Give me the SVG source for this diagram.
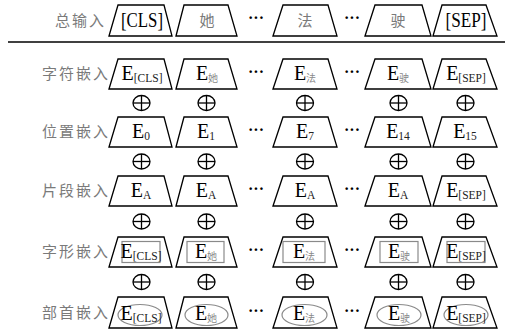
<svg xmlns="http://www.w3.org/2000/svg" width="511" height="330" viewBox="0 0 511 330">
  <style>
    .trap { fill: #ffffff; stroke: #000000; stroke-width: 1.3; stroke-linejoin: miter; }
    .lbl { font-family: "Noto Sans CJK SC", "Noto Sans", sans-serif; font-size: 15px; fill: #7a7a7a; letter-spacing: 2px; }
    .tok { font-family: "Liberation Serif", "Times New Roman", serif; font-size: 20px; fill: #000000; text-anchor: middle; }
    .cjk { font-family: "Noto Sans CJK SC", sans-serif; font-size: 15px; fill: #7a7a7a; text-anchor: middle; }
    .sub { font-size: 11.5px; fill: #222222; }
    .subc { font-family: "Noto Sans CJK SC", sans-serif; font-size: 10px; fill: #8a8a8a; }
    .dots { font-family: "Liberation Serif", serif; font-size: 16px; font-weight: bold; fill: #000000; text-anchor: middle; }
    .plus { fill: none; stroke: #000000; stroke-width: 1.3; }
    .box { fill: none; stroke: #8a8a8a; stroke-width: 1.2; }
    .rule { stroke: #000000; stroke-width: 1.5; }
  </style>

  <!-- row labels -->
  <g id="labels">
    <text class="lbl" x="55" y="26">总输入</text>
    <text class="lbl" x="42" y="79">字符嵌入</text>
    <text class="lbl" x="42" y="137">位置嵌入</text>
    <text class="lbl" x="42" y="196">片段嵌入</text>
    <text class="lbl" x="42" y="257">字形嵌入</text>
    <text class="lbl" x="42" y="318">部首嵌入</text>
  </g>

  <line class="rule" x1="8" y1="42" x2="505" y2="42"/>

  <!-- row 0: input tokens -->
  <g id="input">
    <g id="in-cls"><polygon class="trap" points="109,36 118,5 164,5 172,36"/><text class="tok" x="142" y="27" textLength="42" lengthAdjust="spacingAndGlyphs">[CLS]</text></g>
    <g id="in-ta"><polygon class="trap" points="176,36 184,5 228,5 237,36"/><text class="cjk" x="207" y="26">她</text></g>
    <g id="in-fa"><polygon class="trap" points="273,36 283,5 328,5 337,36"/><text class="cjk" x="305" y="26">法</text></g>
    <g id="in-shi"><polygon class="trap" points="365,36 375,5 422,5 431,36"/><text class="cjk" x="398" y="26">驶</text></g>
    <g id="in-sep"><polygon class="trap" points="433,36 442,5 486,5 497,36"/><text class="tok" x="466" y="27" textLength="41" lengthAdjust="spacingAndGlyphs">[SEP]</text></g>
    <text class="dots" x="256" y="23">···</text>
    <text class="dots" x="352" y="23">···</text>
  </g>

  <!-- row 1: token embeddings -->
  <g id="token-emb">
    <g id="tok-cls"><polygon class="trap" points="109,89 118,59 164,59 172,89"/><text class="tok" x="142" y="80">E<tspan class="sub" dy="2">[CLS]</tspan></text></g>
    <g id="tok-ta"><polygon class="trap" points="176,89 184,59 228,59 237,89"/><text class="tok" x="207" y="80">E<tspan class="subc" dy="2">她</tspan></text></g>
    <g id="tok-fa"><polygon class="trap" points="273,89 283,59 328,59 337,89"/><text class="tok" x="305" y="80">E<tspan class="subc" dy="2">法</tspan></text></g>
    <g id="tok-shi"><polygon class="trap" points="365,89 375,59 422,59 431,89"/><text class="tok" x="398" y="80">E<tspan class="subc" dy="2">驶</tspan></text></g>
    <g id="tok-sep"><polygon class="trap" points="433,89 442,59 486,59 497,89"/><text class="tok" x="466" y="80">E<tspan class="sub" dy="2">[SEP]</tspan></text></g>
    <text class="dots" x="256" y="77">···</text>
    <text class="dots" x="352" y="77">···</text>
  </g>

  <!-- row 2: position embeddings -->
  <g id="pos-emb">
    <g id="pos-0"><polygon class="trap" points="109,147 118,117 164,117 172,147"/><text class="tok" x="141" y="138">E<tspan class="sub" dy="2">0</tspan></text></g>
    <g id="pos-1"><polygon class="trap" points="176,147 184,117 228,117 237,147"/><text class="tok" x="206" y="138">E<tspan class="sub" dy="2">1</tspan></text></g>
    <g id="pos-7"><polygon class="trap" points="273,147 283,117 328,117 337,147"/><text class="tok" x="305" y="138">E<tspan class="sub" dy="2">7</tspan></text></g>
    <g id="pos-14"><polygon class="trap" points="365,147 375,117 422,117 431,147"/><text class="tok" x="398" y="138">E<tspan class="sub" dy="2">14</tspan></text></g>
    <g id="pos-15"><polygon class="trap" points="433,147 442,117 486,117 497,147"/><text class="tok" x="465" y="138">E<tspan class="sub" dy="2">15</tspan></text></g>
    <text class="dots" x="256" y="135">···</text>
    <text class="dots" x="352" y="135">···</text>
  </g>

  <!-- row 3: segment embeddings -->
  <g id="seg-emb">
    <g id="seg-1"><polygon class="trap" points="109,206 118,176 164,176 172,206"/><text class="tok" x="141" y="197">E<tspan class="sub" dy="2">A</tspan></text></g>
    <g id="seg-2"><polygon class="trap" points="176,206 184,176 228,176 237,206"/><text class="tok" x="206" y="197">E<tspan class="sub" dy="2">A</tspan></text></g>
    <g id="seg-3"><polygon class="trap" points="273,206 283,176 328,176 337,206"/><text class="tok" x="305" y="197">E<tspan class="sub" dy="2">A</tspan></text></g>
    <g id="seg-4"><polygon class="trap" points="365,206 375,176 422,176 431,206"/><text class="tok" x="398" y="197">E<tspan class="sub" dy="2">A</tspan></text></g>
    <g id="seg-5"><polygon class="trap" points="433,206 442,176 486,176 497,206"/><text class="tok" x="466" y="197">E<tspan class="sub" dy="2">[SEP]</tspan></text></g>
    <text class="dots" x="256" y="194">···</text>
    <text class="dots" x="352" y="194">···</text>
  </g>

  <!-- row 4: glyph embeddings -->
  <g id="glyph-emb">
    <g id="gly-cls"><polygon class="trap" points="109,267 118,237 164,237 172,267"/><rect class="box" x="122" y="241.5" width="38" height="21"/><text class="tok" x="141" y="258">E<tspan class="sub" dy="2">[CLS]</tspan></text></g>
    <g id="gly-ta"><polygon class="trap" points="176,267 184,237 228,237 237,267"/><rect class="box" x="187" y="241.5" width="37" height="21"/><text class="tok" x="206" y="258">E<tspan class="subc" dy="2">她</tspan></text></g>
    <g id="gly-fa"><polygon class="trap" points="273,267 283,237 328,237 337,267"/><rect class="box" x="283" y="241.5" width="42" height="21"/><text class="tok" x="304" y="258">E<tspan class="subc" dy="2">法</tspan></text></g>
    <g id="gly-shi"><polygon class="trap" points="365,267 375,237 422,237 431,267"/><rect class="box" x="380" y="241.5" width="38" height="21"/><text class="tok" x="399" y="258">E<tspan class="subc" dy="2">驶</tspan></text></g>
    <g id="gly-sep"><polygon class="trap" points="433,267 442,237 486,237 497,267"/><rect class="box" x="447" y="241.5" width="38" height="21"/><text class="tok" x="466" y="258">E<tspan class="sub" dy="2">[SEP]</tspan></text></g>
    <text class="dots" x="256" y="255">···</text>
    <text class="dots" x="352" y="255">···</text>
  </g>

  <!-- row 5: radical embeddings -->
  <g id="radical-emb">
    <g id="rad-cls"><polygon class="trap" points="109,328 118,297 164,297 172,328"/><ellipse class="box" cx="140" cy="315" rx="22" ry="10.5"/><text class="tok" x="141" y="320">E<tspan class="sub" dy="2">[CLS]</tspan></text></g>
    <g id="rad-ta"><polygon class="trap" points="176,328 184,297 228,297 237,328"/><ellipse class="box" cx="206.5" cy="315" rx="21.5" ry="10.5"/><text class="tok" x="206" y="320">E<tspan class="subc" dy="2">她</tspan></text></g>
    <g id="rad-fa"><polygon class="trap" points="273,328 283,297 328,297 337,328"/><ellipse class="box" cx="304.5" cy="315" rx="22.5" ry="10.5"/><text class="tok" x="304" y="320">E<tspan class="subc" dy="2">法</tspan></text></g>
    <g id="rad-shi"><polygon class="trap" points="365,328 375,297 422,297 431,328"/><ellipse class="box" cx="399" cy="315" rx="22" ry="10.5"/><text class="tok" x="399" y="320">E<tspan class="subc" dy="2">驶</tspan></text></g>
    <g id="rad-sep"><polygon class="trap" points="433,328 442,297 486,297 497,328"/><ellipse class="box" cx="466" cy="315" rx="22" ry="10.5"/><text class="tok" x="466" y="320">E<tspan class="sub" dy="2">[SEP]</tspan></text></g>
    <text class="dots" x="256" y="316">···</text>
    <text class="dots" x="352" y="316">···</text>
  </g>

  <!-- element-wise addition symbols between rows -->
  <defs>
    <g id="oplus">
      <ellipse class="plus" cx="0" cy="0" rx="8.5" ry="7.5"/>
      <line class="plus" x1="-8.5" y1="0" x2="8.5" y2="0"/>
      <line class="plus" x1="0" y1="-7.5" x2="0" y2="7.5"/>
    </g>
  </defs>
  <g id="connectors">
    <use href="#oplus" x="141.5" y="103"/><use href="#oplus" x="206.5" y="103"/><use href="#oplus" x="305" y="103"/><use href="#oplus" x="398.5" y="103"/><use href="#oplus" x="465.5" y="103"/>
    <use href="#oplus" x="141.5" y="161.5"/><use href="#oplus" x="206.5" y="161.5"/><use href="#oplus" x="305" y="161.5"/><use href="#oplus" x="398.5" y="161.5"/><use href="#oplus" x="465.5" y="161.5"/>
    <use href="#oplus" x="141.5" y="221.5"/><use href="#oplus" x="206.5" y="221.5"/><use href="#oplus" x="305" y="221.5"/><use href="#oplus" x="398.5" y="221.5"/><use href="#oplus" x="465.5" y="221.5"/>
    <use href="#oplus" x="141.5" y="282"/><use href="#oplus" x="206.5" y="282"/><use href="#oplus" x="305" y="282"/><use href="#oplus" x="398.5" y="282"/><use href="#oplus" x="465.5" y="282"/>
  </g>
</svg>
